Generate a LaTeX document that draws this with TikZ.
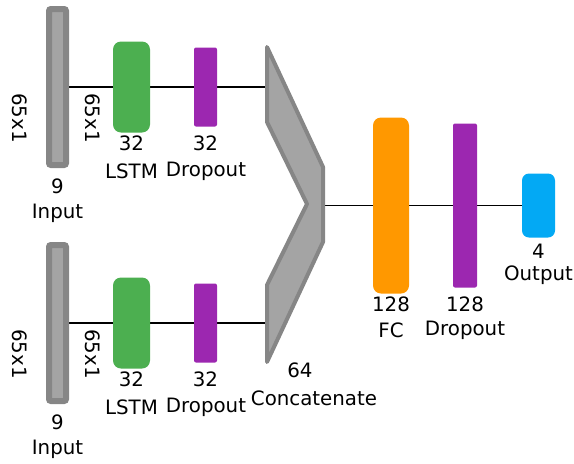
\documentclass[tikz,border=0pt]{standalone}
\usepackage{fontspec}
\setmainfont{DejaVu Sans}
\pgfdeclarelayer{background}
\pgfsetlayers{background,main}
\definecolor{bardark}{HTML}{868686}
\definecolor{barlight}{HTML}{A4A4A4}
\definecolor{lstmgreen}{HTML}{4CAF50}
\definecolor{droppurple}{HTML}{9C27B0}
\definecolor{fcorange}{HTML}{FF9800}
\definecolor{outblue}{HTML}{03A9F4}
\tikzset{
  lbl/.style={font=\fontsize{19.8}{24}\selectfont, inner sep=0pt, anchor=center},
  inputbar/.style={fill=barlight, draw=bardark, line width=6pt, rounded corners=2pt,
    minimum width=17pt, minimum height=156pt, inner sep=0pt},
  layerbox/.style={inner sep=0pt, rounded corners=#1},
  lstmbox/.style={layerbox=8pt, fill=lstmgreen, minimum width=37pt, minimum height=91pt},
  dropbox/.style={layerbox=2pt, fill=droppurple, minimum width=23pt},
  link/.style={line width=1.3pt, black},
}
\begin{document}
\begin{tikzpicture}[x=1pt, y=-1pt]
\useasboundingbox (0,0) rectangle (574,464);

% two parallel branches: input -> LSTM -> dropout
\foreach \b/\dy in {a/0, b/236} {
  \node[inputbar] (in\b) at (57.5, 87+\dy) {};
  \node[lstmbox] (lstm\b) at (131.5, 87+\dy) {};
  \node[dropbox, minimum height=79pt] (drop\b) at (205.5, 87+\dy) {};
  \node[lbl, rotate=-90] (dimo\b) at (20, 118+\dy) {65x1};
  \node[lbl, rotate=-90] (dimi\b) at (93, 118+\dy) {65x1};
  \node[lbl] (nin\b) at (57.5, 186+\dy) {9};
  \node[lbl] (tin\b) at (57.5, 213+\dy) {Input};
  \node[lbl] (nlstm\b) at (131.5, 143+\dy) {32};
  \node[lbl] (tlstm\b) at (131.5, 171+\dy) {LSTM};
  \node[lbl] (ndrop\b) at (205.5, 143+\dy) {32};
  \node[lbl] (tdrop\b) at (206, 171+\dy) {Dropout};
}

% concatenation chevron
\coordinate (cina) at (267,87);
\coordinate (cinb) at (267,323);
\coordinate (cout) at (323,205.5);
\draw[fill=barlight, draw=bardark, line width=4pt, line join=round]
  (267,47) -- (323,167) -- (323,242) -- (267,362) -- (267,285)
  -- (307,204) -- (267,122) -- cycle;
\node[lbl] (ncat) at (300, 370) {64};
\node[lbl] (tcat) at (314, 398) {Concatenate};

% dense head
\node[layerbox=8pt, fill=fcorange, minimum width=36pt, minimum height=176pt] (fc) at (391, 205.5) {};
\node[dropbox, minimum width=24pt, minimum height=164pt] (dropc) at (465, 205.5) {};
\node[layerbox=7pt, fill=outblue, minimum width=33pt, minimum height=64pt] (out) at (538.5, 205.5) {};
\node[lbl] (nfc) at (391, 304) {128};
\node[lbl] (tfc) at (391, 330) {FC};
\node[lbl] (ndropc) at (465, 304) {128};
\node[lbl] (tdropc) at (465, 330) {Dropout};
\node[lbl] (nout) at (538.5, 251) {4};
\node[lbl] (tout) at (538.5, 275) {Output};

% connectors
\begin{pgfonlayer}{background}
  \foreach \b in {a,b} {
    \draw[link] (in\b.east) -- (lstm\b.west);
    \draw[link] (lstm\b.east) -- (drop\b.west);
    \draw[link] (drop\b.east) -- (cin\b);
  }
  \draw[link] (cout) -- (fc.west);
  \draw[link] (fc.east) -- (dropc.west);
  \draw[link] (dropc.east) -- (out.west);
\end{pgfonlayer}
\end{tikzpicture}
\end{document}
